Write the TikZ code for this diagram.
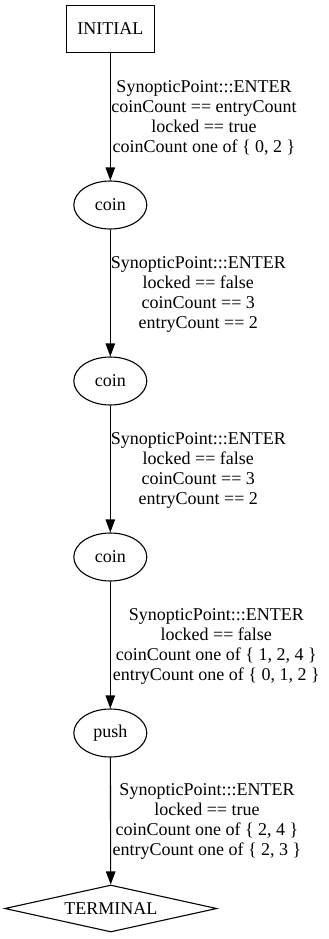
\documentclass[tikz,border=0pt]{standalone}
\usepackage{fontspec}
\setmainfont{Liberation Serif}
\usetikzlibrary{shapes.geometric,arrows.meta}
\begin{document}
\begin{tikzpicture}[x=1pt,y=-1pt,
  every node/.style={font=\fontsize{18}{20}\selectfont, inner sep=0pt},
  state/.style={draw, line width=1.1pt, ellipse, minimum width=73pt, minimum height=48pt},
  startbox/.style={draw, line width=1.1pt, rectangle, minimum width=88pt, minimum height=47pt},
  endbox/.style={draw, line width=1.1pt, diamond, aspect=4.5, minimum width=212pt, minimum height=47pt},
  guard/.style={align=center, anchor=north},
  arr/.style={draw, line width=1.1pt, -{Triangle[length=13pt,width=9.5pt]}}
]
\useasboundingbox (0,0) rectangle (329,939);

% states along the trace
\node[startbox] (init) at (110.3,29) {INITIAL};
\node[state] (c1) at (110.3,205) {coin};
\node[state] (c2) at (110.3,381) {coin};
\node[state] (c3) at (110.3,557) {coin};
\node[state] (push) at (110.3,733) {push};
\node[endbox] (term) at (110.8,908.5) {TERMINAL};

% transitions
\draw[arr] (init) -- (c1);
\draw[arr] (c1) -- (c2);
\draw[arr] (c2) -- (c3);
\draw[arr] (c3) -- (push);
\draw[arr] (push) -- (term);

% transition guards
\node[guard] (g1) at (204,80.2) {SynopticPoint:::ENTER\\coinCount == entryCount\\locked == true\\coinCount one of \{ 0, 2 \}};
\node[guard] (g2) at (198.3,256) {SynopticPoint:::ENTER\\locked == false\\coinCount == 3\\entryCount == 2};
\node[guard] (g3) at (198.3,432) {SynopticPoint:::ENTER\\locked == false\\coinCount == 3\\entryCount == 2};
\node[guard] (g4) at (216.3,608.7) {SynopticPoint:::ENTER\\locked == false\\coinCount one of \{ 1, 2, 4 \}\\entryCount one of \{ 0, 1, 2 \}};
\node[guard] (g5) at (207,783.7) {SynopticPoint:::ENTER\\locked == true\\coinCount one of \{ 2, 4 \}\\entryCount one of \{ 2, 3 \}};
\end{tikzpicture}
\end{document}
